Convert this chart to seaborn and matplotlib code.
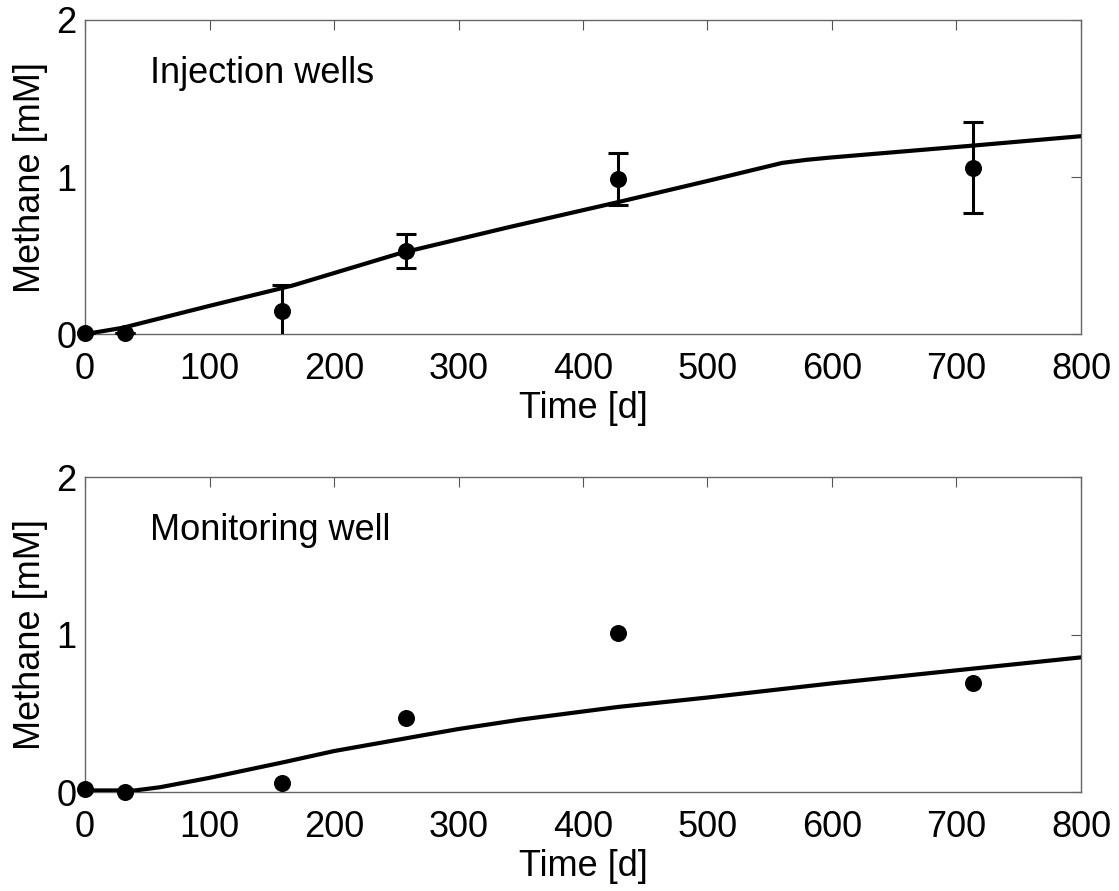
import matplotlib
matplotlib.use("Agg")
import matplotlib.pyplot as plt
import seaborn as sns
import numpy as np
import pandas as pd

# Measured methane concentrations (mM) at sampling days
obs_days = [0, 32, 158, 258, 428, 713]
inj_obs = [0.01, 0.01, 0.15, 0.53, 0.99, 1.06]
inj_err = [0.0, 0.0, 0.16, 0.11, 0.165, 0.29]
mon_obs = [0.02, 0.0, 0.055, 0.47, 1.01, 0.69]

# Simulated methane curves
inj_model_days = [0, 30, 100, 167, 253, 340, 428, 500, 560, 580, 600, 713, 800]
inj_model = [0.0, 0.04, 0.18, 0.31, 0.515, 0.68, 0.84, 0.975, 1.09, 1.11, 1.125, 1.20, 1.26]
mon_model_days = [0, 40, 60, 80, 100, 130, 160, 200, 257, 300, 350, 428, 500, 600, 715, 800]
mon_model = [0.01, 0.01, 0.03, 0.06, 0.09, 0.14, 0.19, 0.26, 0.34, 0.40, 0.46, 0.54, 0.60, 0.69, 0.785, 0.855]

panel_titles = ["Injection wells", "Monitoring well"]
x_ticks = [0, 100, 200, 300, 400, 500, 600, 700, 800]
y_ticks = [0, 1, 2]

sns.set_style("white")
plt.rcParams["font.family"] = ["Liberation Sans", "DejaVu Sans"]
plt.rcParams["font.size"] = 26
plt.rcParams["text.color"] = "black"
plt.rcParams["axes.labelcolor"] = "black"
plt.rcParams["xtick.labelcolor"] = "black"
plt.rcParams["ytick.labelcolor"] = "black"

FS = 26

fig = plt.figure(figsize=(11.19, 8.91), dpi=100)
ax_top = fig.add_axes([0.076, 0.625, 0.890, 0.3526])
ax_bot = fig.add_axes([0.076, 0.1111, 0.890, 0.3535])

panels = [
    (ax_top, inj_model_days, inj_model, inj_obs, inj_err),
    (ax_bot, mon_model_days, mon_model, mon_obs, None),
]

for (ax, mdays, mvals, ovals, oerr), title in zip(panels, panel_titles):
    model_df = pd.DataFrame({"day": mdays, "methane": mvals})
    obs_df = pd.DataFrame({"day": obs_days, "methane": ovals})
    sns.lineplot(data=model_df, x="day", y="methane", ax=ax, color="black",
                 linewidth=3.0, zorder=3)
    if oerr is not None:
        ax.errorbar(obs_days, ovals, yerr=oerr, fmt="none", ecolor="black",
                    elinewidth=2.2, capsize=7, capthick=2.2, zorder=4)
    sns.scatterplot(data=obs_df, x="day", y="methane", ax=ax, color="black",
                    s=150, edgecolor="black", linewidth=0, zorder=5,
                    clip_on=False)
    ax.set_xlim(0, 800)
    ax.set_ylim(0, 2)
    ax.set_xticks(x_ticks)
    ax.set_yticks(y_ticks)
    ax.set_xticklabels([str(t) for t in x_ticks], fontsize=FS)
    ax.set_yticklabels([str(t) for t in y_ticks], fontsize=FS)
    ax.set_xlabel("Time [d]", fontsize=FS, labelpad=3)
    ax.set_ylabel("Methane [mM]", fontsize=FS, labelpad=6)
    ax.tick_params(direction="in", length=7, width=0.8, color="#555555",
                   top=True, right=True)
    ax.tick_params(axis="x", pad=13)
    ax.tick_params(axis="y", pad=6)
    for sp in ax.spines.values():
        sp.set_visible(True)
        sp.set_color("#666666")
        sp.set_linewidth(1.0)
    ax.text(52, 1.66, title, fontsize=FS, va="center", ha="left")

fig.savefig("out.png", dpi=100, facecolor="white")
